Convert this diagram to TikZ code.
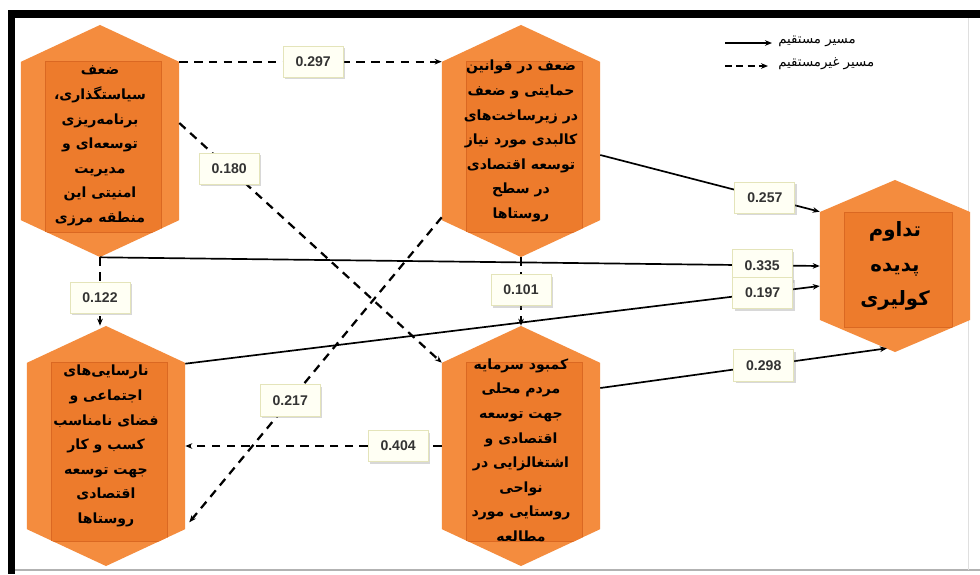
\documentclass[tikz,border=0pt]{standalone}
\usepackage{fontspec}
\setmainfont{Liberation Sans}
\newfontfamily\arabicfont[Script=Arabic]{DejaVu Sans}
\TeXXeTstate=1
\usetikzlibrary{positioning,arrows.meta,calc,shadows}
\definecolor{hexOrange}{RGB}{244,140,62}
\definecolor{hexInner}{RGB}{237,123,44}
\definecolor{hexEdge}{RGB}{218,104,34}
\definecolor{lblFill}{RGB}{255,255,244}
\definecolor{lblEdge}{RGB}{228,228,186}

\newcommand{\fa}[1]{\beginR #1\endR}
\newcommand{\hexbody}[1]{%
  \coordinate (pnw) at (path picture bounding box.north west);
  \coordinate (pse) at (path picture bounding box.south east);
  \coordinate (pn) at (path picture bounding box.north);
  \coordinate (ps) at (path picture bounding box.south);
  \fill[hexOrange] (pn) -- ($(pse |- pn)+(0cm,-#1)$) -- ($(pse)+(0cm,#1)$) -- (ps)
    -- ($(pnw |- ps)+(0cm,#1)$) -- ($(pnw)+(0cm,-#1)$) -- cycle;
  \begin{scope}
    \clip (pn) -- ($(pse |- pn)+(0cm,-#1)$) -- ($(pse)+(0cm,#1)$) -- (ps)
      -- ($(pnw |- ps)+(0cm,#1)$) -- ($(pnw)+(0cm,-#1)$) -- cycle;
    \fill[hexInner, draw=hexEdge, line width=0.5pt]
      ($(pnw)+(0.6cm,-#1)$) rectangle ($(pse)+(-0.45cm,0.62cm)$);
  \end{scope}
}

\tikzset{
  hexnode/.style={minimum width=3.95cm, minimum height=5.8cm, inner sep=0pt,
    align=center, text=black,
    font=\arabicfont\bfseries\fontsize{10}{17.5}\selectfont,
    path picture={\hexbody{#1}}},
  hexnode/.default=0.92cm,
  lbl/.style={solid, draw=lblEdge, line width=0.6pt, fill=lblFill,
    minimum width=1.5cm, minimum height=0.78cm,
    inner sep=1pt, text=black!80, font=\bfseries\fontsize{10}{12}\selectfont,
    drop shadow={opacity=0.3, shadow xshift=1.5pt, shadow yshift=-1.5pt}},
  direct/.style={draw, line width=1.2pt, ->},
  indirect/.style={draw, line width=1.6pt, dash pattern=on 6pt off 4.5pt, ->},
  legtxt/.style={font=\arabicfont\fontsize{9.5}{11}\selectfont, inner sep=0pt},
}

\begin{document}
\begin{tikzpicture}[x=0.025cm, y=-0.025cm, >={Stealth[length=5pt,width=4pt]}]
  \useasboundingbox (0,0) rectangle (980,574);
  \fill[white] (0,0) rectangle (980,574);

  % frame
  \fill[black] (8,10) rectangle (980,18);
  \fill[black] (8,10) rectangle (15,574);
  \draw[gray!60, line width=1.2pt] (15,570) -- (980,570);
  \draw[gray!25, line width=0.6pt] (968,18) -- (968,570);

  % factors
  \node[hexnode] (h1) at (100,141) {\\[-4pt] \fa{ضعف}\\ \fa{سیاستگذاری،}\\ \fa{برنامه‌ریزی}\\
    \fa{توسعه‌ای و}\\ \fa{مدیریت}\\ \fa{امنیتی این}\\ \fa{منطقه مرزی}};
  \node[hexnode] (h2) at (521,141) {\fa{ضعف در قوانین}\\ \fa{حمایتی و ضعف}\\
    \fa{در زیرساخت‌های}\\ \fa{کالبدی مورد نیاز}\\ \fa{توسعه اقتصادی}\\ \fa{در سطح}\\ \fa{روستاها}};
  \node[hexnode, minimum height=6cm] (h3) at (106,446) {\fa{نارسایی‌های}\\ \fa{اجتماعی و}\\
    \fa{فضای نامناسب}\\ \fa{کسب و کار}\\ \fa{جهت توسعه}\\ \fa{اقتصادی}\\ \fa{روستاها}};
  \node[hexnode, minimum height=6cm] (h4) at (521,446) {\\[-4pt] \fa{کمبود سرمایه}\\ \fa{مردم محلی}\\
    \fa{جهت توسعه}\\ \fa{اقتصادی و}\\ \fa{اشتغالزایی در}\\ \fa{نواحی}\\ \fa{روستایی مورد}\\ \fa{مطالعه}};

  % outcome
  \node[hexnode=0.8cm, minimum width=3.75cm, minimum height=4.3cm,
    font=\arabicfont\bfseries\fontsize{14}{24.5}\selectfont] (h5) at (895,266)
    {\fa{تداوم}\\ \fa{پدیده}\\ \fa{کولیری}};

  % indirect paths
  \draw[indirect] ($(h1.north east)+(0,37)$) -- node[lbl, pos=0.51] (l297) {0.297} ($(h2.north west)+(0,37)$);
  \draw[indirect] ($(h1.east)+(0,-18)$) -- node[lbl, pos=0.19] (l180) {0.180} ($(h4.north west)+(0,37)$);
  \draw[indirect] ($(h2.south west)+(0,-40)$) -- node[lbl, pos=0.6] (l217) {0.217} ($(h3.south east)+(4,-44)$);
  \draw[indirect] (h4.west) -- node[lbl, pos=0.17] (l404) {0.404} (h3.east);
  \draw[indirect] (h1.south) -- node[lbl, pos=0.59] (l122) {0.122} (h1.south |- h3.north);
  \draw[indirect] (h2.south) -- node[lbl, pos=0.48] (l101) {0.101} (h4.north);

  % direct paths
  \draw[direct] ($(h2.east)+(0,14)$) -- node[lbl, pos=0.75] (l257) {0.257} ($(h5.north west)+(0,32)$);
  \draw[direct] (h1.south) -- node[lbl, pos=0.92] (l335) {0.335} (h5.west);
  \draw[direct] ($(h3.north east)+(0,38)$) -- node[lbl, pos=0.91] (l197) {0.197} ($(h5.west)+(0,20)$);
  \draw[direct] ($(h4.east)+(0,-58)$) -- node[lbl, pos=0.57] (l298) {0.298} ($(h5.south)+(-8,-4)$);

  % legend
  \coordinate (ls1) at (725,43);
  \coordinate (ls2) at (772,43);
  \coordinate (ld1) at (725,66);
  \coordinate (ld2) at (768,66);
  \draw[direct, line width=1pt] (ls1) -- (ls2);
  \draw[indirect, line width=1.2pt, dash pattern=on 5pt off 3pt] (ld1) -- (ld2);
  \node[legtxt, anchor=west] (lg1) at (778,41) {\fa{مسیر مستقیم}};
  \node[legtxt, anchor=west] (lg2) at (778,64) {\fa{مسیر غیرمستقیم}};
\end{tikzpicture}
\end{document}
